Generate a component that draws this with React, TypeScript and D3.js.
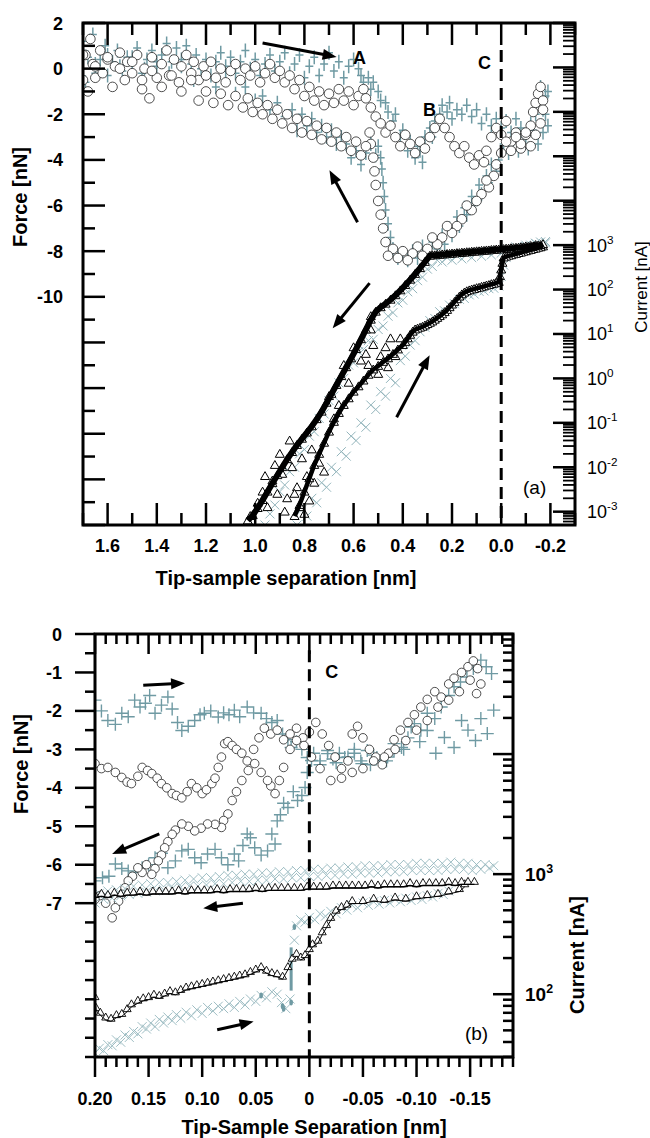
import React from 'react';
import * as d3 from 'd3';

type Pt = [number, number];

// ---------- panel (a): force [nN] vs tip-sample separation [nm]
const plusApproachA: Pt[] = [
  [1.70, 1.2], [1.69, -0.6], [1.68, 0.5], [1.66, 1.5], [1.65, -0.2], [1.63, 0.4], [1.61, 1.0], [1.60, -0.3], [1.58, 0.3], [1.56, 0.8],
  [1.54, -0.1], [1.52, 0.5], [1.50, 0.2], [1.48, 0.9], [1.46, -0.2], [1.44, 0.4], [1.42, 0.8], [1.40, 0.1], [1.38, 0.6], [1.36, 1.1],
  [1.34, 0.3], [1.32, 0.9], [1.30, 0.4], [1.28, 1.0], [1.26, 0.2], [1.24, 0.6], [1.22, 0.0], [1.20, 0.4], [1.18, -0.3], [1.16, 0.3],
  [1.14, 0.7], [1.12, 0.1], [1.10, 0.5], [1.08, -0.2], [1.06, 0.3], [1.04, 0.8], [1.02, 0.0], [1.00, 0.4], [0.98, -0.3], [0.96, 0.2],
  [0.94, 0.6], [0.92, -0.1], [0.90, 0.3], [0.88, 0.7], [0.86, -0.2], [0.84, 0.2], [0.82, 0.6], [0.80, -0.4], [0.78, 0.1], [0.76, 0.5],
  [0.74, -0.3], [0.72, 0.2], [0.70, 0.7], [0.68, -0.1], [0.66, 0.3], [0.64, -0.4], [0.62, 0.1], [0.60, 0.4], [0.58, 0.0], [0.57, -0.3],
  [0.56, -0.6], [0.54, -0.4], [0.53, -0.9], [0.52, -0.6], [0.50, -1.0], [0.49, -1.4], [0.47, -1.5], [0.46, -1.9], [0.44, -2.3], [0.43, -2.0],
  [0.41, -3.0], [0.40, -2.7], [0.38, -3.6], [0.37, -3.2], [0.35, -3.9], [0.34, -3.4], [0.33, -3.6], [0.32, -4.1], [0.31, -3.0], [0.29, -2.6],
  [0.28, -3.0], [0.27, -2.3], [0.25, -2.0], [0.24, -1.6], [0.22, -1.9], [0.21, -1.5], [0.20, -2.2], [0.18, -1.8], [0.16, -2.0], [0.14, -1.6],
  [0.12, -2.1], [0.10, -1.8], [0.08, -2.4], [0.06, -2.0], [0.04, -2.5], [0.02, -2.2], [0.00, -2.6], [-0.02, -2.3], [-0.04, -2.8], [-0.06, -2.2],
  [-0.08, -2.6], [-0.10, -3.0], [-0.12, -2.4], [-0.14, -2.0], [-0.15, -1.4], [-0.16, -0.8], [-0.17, -1.8], [-0.18, -1.2], [-0.19, -2.5],
];
const plusRetractA: Pt[] = [
  [-0.19, -1.0], [-0.18, -2.0], [-0.17, -2.8], [-0.15, -3.3], [-0.13, -2.7], [-0.11, -3.5], [-0.09, -3.0], [-0.07, -3.6], [-0.05, -3.1], [-0.03, -3.7],
  [-0.01, -3.3], [0.01, -4.0], [0.02, -4.5], [0.04, -4.2], [0.05, -5.0], [0.06, -4.7], [0.08, -5.5], [0.09, -5.1], [0.11, -6.0], [0.12, -5.6],
  [0.14, -6.4], [0.15, -6.1], [0.17, -6.9], [0.18, -6.5], [0.20, -7.3], [0.21, -7.0], [0.23, -7.7], [0.24, -7.3], [0.26, -7.9], [0.28, -7.6],
  [0.30, -8.1], [0.32, -7.8], [0.34, -8.3], [0.36, -8.0], [0.38, -8.4], [0.40, -8.1], [0.42, -8.3], [0.44, -7.9], [0.45, -7.4], [0.46, -6.8],
  [0.47, -6.2], [0.475, -5.6], [0.48, -5.0], [0.485, -4.4], [0.49, -3.9], [0.50, -3.4], [0.51, -3.8], [0.53, -3.3], [0.55, -3.7], [0.57, -4.2],
  [0.59, -3.6], [0.61, -3.9], [0.63, -3.3], [0.65, -3.0], [0.67, -3.3], [0.69, -2.7], [0.71, -3.0], [0.73, -2.5], [0.75, -2.8], [0.77, -2.2],
  [0.79, -2.5], [0.81, -2.0], [0.83, -2.7], [0.85, -1.8], [0.88, -2.1], [0.91, -1.5], [0.94, -1.8], [0.97, -1.2], [1.00, -1.4], [1.04, -0.8],
  [1.08, -1.1], [1.12, -0.5], [1.16, -0.8], [1.20, -0.2], [1.25, -0.5], [1.30, 0.1], [1.35, -0.2], [1.40, 0.3], [1.45, 0.0], [1.50, 0.5],
  [1.55, 0.1], [1.60, 0.6], [1.65, 0.2], [1.70, 0.8],
];
const circleApproachA: Pt[] = [
  [1.70, -0.5], [1.69, 0.6], [1.68, -1.0], [1.67, 1.3], [1.66, 0.2], [1.65, -0.4], [1.63, 0.8], [1.62, -0.2], [1.60, 0.4], [1.58, -0.8],
  [1.57, 0.1], [1.55, 0.7], [1.53, -0.5], [1.52, 0.3], [1.50, -0.2], [1.48, 0.6], [1.46, -0.9], [1.45, 0.0], [1.43, -1.3], [1.42, 0.5],
  [1.40, -0.4], [1.38, 0.2], [1.36, 0.8], [1.35, -0.3], [1.33, 0.4], [1.31, -0.6], [1.30, 0.1], [1.28, 0.6], [1.26, -0.2], [1.25, 0.3],
  [1.23, -0.5], [1.21, 0.1], [1.20, -0.3], [1.18, 0.3], [1.16, -0.4], [1.14, 0.0], [1.12, -0.6], [1.10, -0.1], [1.08, 0.2], [1.06, -0.5],
  [1.04, 0.0], [1.02, -0.3], [1.00, 0.1], [0.98, -0.6], [0.96, -0.2], [0.94, 0.2], [0.92, -0.4], [0.90, -0.1], [0.88, -0.6], [0.86, -0.3],
  [0.84, -0.9], [0.82, -0.5], [0.80, -1.2], [0.78, -0.8], [0.76, -1.4], [0.74, -1.0], [0.72, -1.6], [0.70, -1.1], [0.68, -1.5], [0.66, -0.9],
  [0.64, -1.4], [0.62, -1.0], [0.60, -1.6], [0.58, -1.2], [0.56, -0.9], [0.55, -1.3], [0.53, -1.7], [0.51, -2.1], [0.49, -2.4], [0.47, -2.8],
  [0.45, -2.5], [0.43, -3.0], [0.41, -3.4], [0.39, -2.9], [0.37, -3.3], [0.35, -3.7], [0.33, -3.2], [0.31, -3.5], [0.29, -3.0], [0.27, -2.6],
  [0.25, -2.2], [0.23, -2.6], [0.21, -3.0], [0.19, -3.4], [0.17, -3.7], [0.15, -3.4], [0.13, -3.9], [0.11, -4.2], [0.09, -3.8], [0.07, -4.1],
  [0.06, -3.6], [0.04, -3.0], [0.02, -2.6], [0.00, -2.9], [-0.02, -2.3], [-0.04, -3.2], [-0.06, -2.8], [-0.08, -3.5], [-0.10, -2.9], [-0.12, -2.5],
  [-0.13, -1.9], [-0.14, -1.5], [-0.15, -1.1], [-0.16, -0.8], [-0.17, -1.4],
];
const circleRetractA: Pt[] = [
  [-0.17, -1.8], [-0.16, -2.4], [-0.14, -2.9], [-0.12, -3.4], [-0.10, -2.8], [-0.08, -3.3], [-0.06, -3.0], [-0.04, -3.6], [-0.02, -3.2], [0.00, -3.7],
  [0.02, -4.2], [0.03, -4.7], [0.05, -5.2], [0.06, -4.9], [0.08, -5.5], [0.10, -5.8], [0.12, -6.2], [0.14, -6.0], [0.16, -6.6], [0.18, -6.9],
  [0.20, -7.2], [0.22, -6.9], [0.24, -7.4], [0.26, -7.7], [0.28, -7.4], [0.30, -7.9], [0.32, -8.2], [0.34, -7.8], [0.36, -8.1], [0.38, -8.4],
  [0.40, -8.0], [0.42, -8.3], [0.44, -7.9], [0.46, -8.2], [0.47, -7.6], [0.48, -7.0], [0.49, -6.4], [0.50, -5.8], [0.51, -5.1], [0.515, -4.5],
  [0.52, -3.9], [0.53, -3.3], [0.535, -2.8], [0.55, -3.4], [0.57, -3.8], [0.59, -3.2], [0.61, -3.6], [0.63, -3.0], [0.65, -3.4], [0.67, -2.8],
  [0.69, -3.2], [0.71, -2.6], [0.73, -3.1], [0.75, -2.5], [0.77, -2.9], [0.79, -2.3], [0.81, -2.8], [0.83, -2.2], [0.85, -2.6], [0.87, -2.0],
  [0.89, -2.4], [0.91, -1.8], [0.93, -2.2], [0.95, -1.6], [0.97, -2.0], [0.99, -1.5], [1.01, -1.9], [1.03, -1.3], [1.05, -1.7], [1.08, -1.2],
  [1.11, -1.6], [1.14, -1.1], [1.17, -1.5], [1.20, -1.0], [1.23, -1.4], [1.26, -0.5], [1.30, -1.0], [1.34, -0.3], [1.38, -0.8], [1.42, -0.1],
  [1.46, -0.5], [1.50, 0.3], [1.55, 0.0], [1.60, 0.5], [1.65, 0.1], [1.70, 0.6],
];

// ---------- panel (a): current, log10 of I [nA]
const triRetractA: Pt[] = [
  [-0.17, 3.02], [-0.16, 3.0], [-0.15, 2.99], [-0.14, 3.0], [-0.13, 2.97], [-0.12, 2.98], [-0.11, 2.96], [-0.10, 2.97], [-0.09, 2.95], [-0.08, 2.95],
  [-0.07, 2.94], [-0.06, 2.94], [-0.05, 2.93], [-0.04, 2.93], [-0.03, 2.92], [-0.02, 2.92], [-0.01, 2.91], [0.00, 2.91], [0.01, 2.90], [0.02, 2.90],
  [0.03, 2.89], [0.04, 2.89], [0.05, 2.88], [0.06, 2.88], [0.07, 2.87], [0.08, 2.87], [0.09, 2.86], [0.10, 2.86], [0.11, 2.85], [0.12, 2.85],
  [0.13, 2.84], [0.14, 2.84], [0.15, 2.83], [0.16, 2.83], [0.17, 2.82], [0.18, 2.82], [0.19, 2.81], [0.20, 2.81], [0.21, 2.80], [0.22, 2.80],
  [0.23, 2.79], [0.24, 2.79], [0.25, 2.78], [0.26, 2.78], [0.27, 2.77], [0.28, 2.77], [0.29, 2.76], [0.31, 2.62], [0.33, 2.48], [0.35, 2.35],
  [0.37, 2.22], [0.39, 2.10], [0.41, 1.98], [0.43, 1.87], [0.45, 1.77], [0.47, 1.68], [0.49, 1.60], [0.51, 1.50], [0.53, 1.32], [0.55, 1.10],
  [0.57, 0.88], [0.59, 0.66], [0.61, 0.45], [0.63, 0.25], [0.65, 0.05], [0.67, -0.15], [0.69, -0.35], [0.71, -0.55], [0.73, -0.75], [0.75, -0.92],
  [0.77, -1.08], [0.79, -1.22], [0.81, -1.36], [0.83, -1.50], [0.85, -1.66], [0.87, -1.82], [0.89, -2.0], [0.91, -2.18], [0.93, -2.36], [0.95, -2.55],
  [0.97, -2.74], [0.99, -2.92], [1.01, -3.08], [1.03, -3.2],
];
const triApproachA: Pt[] = [
  [-0.17, 2.97], [-0.16, 2.95], [-0.15, 2.94], [-0.14, 2.92], [-0.13, 2.91], [-0.12, 2.89], [-0.11, 2.88], [-0.10, 2.86], [-0.09, 2.85], [-0.08, 2.83],
  [-0.07, 2.82], [-0.06, 2.80], [-0.05, 2.79], [-0.04, 2.77], [-0.03, 2.76], [-0.02, 2.74], [-0.01, 2.72], [-0.005, 2.60], [0.0, 2.45], [0.005, 2.30],
  [0.01, 2.17], [0.02, 2.15], [0.03, 2.13], [0.04, 2.12], [0.05, 2.10], [0.06, 2.09], [0.07, 2.07], [0.08, 2.06], [0.09, 2.04], [0.10, 2.03],
  [0.11, 2.01], [0.12, 2.00], [0.13, 1.98], [0.14, 1.96], [0.15, 1.93], [0.16, 1.89], [0.17, 1.84], [0.18, 1.78], [0.19, 1.72], [0.20, 1.66],
  [0.21, 1.60], [0.22, 1.54], [0.23, 1.49], [0.24, 1.44], [0.25, 1.40], [0.26, 1.36], [0.27, 1.32], [0.28, 1.28], [0.29, 1.25], [0.30, 1.22],
  [0.31, 1.19], [0.32, 1.16], [0.33, 1.14], [0.34, 1.12], [0.35, 1.10], [0.36, 1.05], [0.37, 0.98], [0.38, 0.90], [0.39, 0.82], [0.40, 0.75],
  [0.42, 0.65], [0.44, 0.55], [0.46, 0.45], [0.48, 0.37], [0.50, 0.28], [0.52, 0.20], [0.54, 0.08], [0.56, -0.05], [0.58, -0.18], [0.60, -0.30],
  [0.62, -0.45], [0.64, -0.60], [0.66, -0.78], [0.68, -0.98], [0.70, -1.20], [0.72, -1.45], [0.74, -1.70], [0.76, -1.95], [0.78, -2.25], [0.80, -2.55],
  [0.82, -2.85], [0.84, -3.10],
];
const triScatterA: Pt[] = [
  [1.02, -3.1], [0.99, -2.8], [0.97, -2.55], [0.95, -2.9], [0.93, -2.3], [0.91, -2.6], [0.89, -2.15], [0.87, -2.7], [0.85, -2.0], [0.83, -2.45],
  [0.81, -1.8], [0.79, -2.2], [0.77, -1.6], [0.80, -3.05], [0.82, -2.9], [0.76, -2.35], [0.74, -1.9], [0.72, -2.1], [0.78, -2.75], [0.84, -2.6],
  [0.88, -3.0], [0.92, -1.95], [0.96, -2.2], [0.86, -1.4], [0.90, -1.7], [0.45, 0.9], [0.47, 0.7], [0.43, 0.5], [0.41, 0.9], [0.49, 0.5],
  [0.52, 0.75], [0.55, 0.55], [0.57, 0.4], [0.50, 0.1], [0.46, 0.25], [0.53, 1.1], [0.53, 1.4], [0.54, 0.3], [0.60, 0.7], [0.62, -0.1],
  [0.64, 0.3], [0.66, -0.6], [0.68, -0.9], [0.70, -0.4],
];
const crossRetractA: Pt[] = [
  [-0.18, 3.08], [-0.16, 2.98], [-0.14, 3.04], [-0.12, 2.94], [-0.10, 3.0], [-0.08, 2.9], [-0.06, 2.96], [-0.04, 2.86], [-0.02, 2.92], [0.00, 2.82],
  [0.02, 2.88], [0.04, 2.78], [0.06, 2.85], [0.08, 2.75], [0.10, 2.82], [0.12, 2.72], [0.14, 2.79], [0.16, 2.69], [0.18, 2.76], [0.20, 2.66],
  [0.22, 2.72], [0.24, 2.62], [0.26, 2.66], [0.28, 2.52], [0.30, 2.46], [0.32, 2.28], [0.34, 2.20], [0.36, 2.02], [0.38, 1.95], [0.40, 1.76],
  [0.42, 1.70], [0.44, 1.48], [0.46, 1.40], [0.48, 1.18], [0.50, 1.10], [0.52, 0.88], [0.54, 0.85], [0.56, 0.65], [0.58, 0.6], [0.60, 0.35],
  [0.62, 0.3], [0.64, 0.0], [0.66, -0.1], [0.68, -0.4], [0.70, -0.5], [0.72, -0.8], [0.74, -0.9], [0.76, -1.2], [0.78, -1.3], [0.80, -1.6],
  [0.82, -1.7], [0.84, -2.0], [0.86, -2.1], [0.88, -2.4], [0.90, -2.55], [0.92, -2.85], [0.94, -3.05], [0.96, -3.3],
];
const crossApproachA: Pt[] = [
  [0.83, -3.3], [0.81, -2.95], [0.79, -3.1], [0.77, -2.7], [0.75, -2.8], [0.73, -2.35], [0.71, -2.45], [0.69, -2.0], [0.67, -2.1], [0.65, -1.65],
  [0.63, -1.75], [0.61, -1.3], [0.59, -1.4], [0.57, -1.0], [0.55, -1.1], [0.53, -0.6], [0.51, -0.7], [0.49, -0.3], [0.47, -0.4], [0.45, 0.0],
  [0.43, -0.1], [0.41, 0.4], [0.39, 0.5], [0.37, 0.75], [0.35, 0.85], [0.33, 1.05], [0.31, 1.15], [0.29, 1.3], [0.27, 1.35], [0.25, 1.5],
  [0.23, 1.52], [0.21, 1.65], [0.19, 1.68], [0.17, 1.78], [0.15, 1.8], [0.13, 1.88], [0.11, 1.9], [0.09, 1.96], [0.07, 1.97], [0.05, 2.02],
  [0.03, 2.03], [0.01, 2.08], [0.00, 2.3], [-0.01, 2.55], [-0.02, 2.72], [-0.04, 2.8], [-0.06, 2.88], [-0.08, 2.92], [-0.10, 2.97], [-0.12, 3.0],
  [-0.14, 3.04], [-0.16, 3.07], [-0.18, 3.05],
];

// ---------- panel (b): force [nN] vs tip-sample separation [nm]
const plusApproachB: Pt[] = [
  [0.200, -1.72], [0.194, -2.0], [0.188, -2.25], [0.181, -2.35], [0.175, -2.06], [0.169, -2.15], [0.163, -1.72], [0.158, -1.9], [0.153, -1.80], [0.149, -1.6],
  [0.144, -2.06], [0.138, -1.85], [0.132, -1.64], [0.128, -1.95], [0.123, -2.3], [0.119, -2.51], [0.113, -2.4], [0.107, -2.25], [0.102, -2.1], [0.098, -2.06],
  [0.092, -2.0], [0.085, -2.16], [0.080, -2.05], [0.075, -2.1], [0.070, -1.98], [0.065, -2.15], [0.058, -1.90], [0.052, -2.05], [0.045, -2.06], [0.040, -2.2],
  [0.035, -2.3], [0.030, -2.25], [0.025, -2.6], [0.020, -2.75], [0.017, -2.95], [0.012, -2.8], [0.007, -3.0], [0.002, -3.21], [-0.004, -3.1], [-0.010, -3.3],
  [-0.017, -3.03], [-0.022, -3.25], [-0.028, -3.1], [-0.036, -3.2], [-0.042, -3.0], [-0.048, -3.3], [-0.054, -3.03], [-0.060, -3.15], [-0.066, -3.3], [-0.073, -3.2],
  [-0.079, -3.05], [-0.086, -2.95], [-0.092, -2.7], [-0.098, -2.33], [-0.104, -2.5], [-0.110, -2.06], [-0.117, -2.2], [-0.123, -1.9], [-0.130, -1.6], [-0.135, -1.37],
  [-0.141, -1.25], [-0.147, -1.12], [-0.153, -0.9], [-0.160, -0.68], [-0.165, -0.85], [-0.170, -1.03],
];
const plusRetractB: Pt[] = [
  [-0.172, -1.98], [-0.166, -2.59], [-0.160, -2.2], [-0.155, -2.77], [-0.148, -2.5], [-0.142, -2.25], [-0.135, -2.95], [-0.126, -2.69], [-0.118, -3.1], [-0.110, -2.51],
  [-0.103, -2.8], [-0.095, -2.42], [-0.088, -3.0], [-0.079, -2.85], [-0.072, -3.3], [-0.063, -3.21], [-0.057, -3.4], [-0.049, -3.37], [-0.042, -3.1], [-0.033, -3.21],
  [-0.025, -3.35], [-0.017, -3.11], [-0.010, -3.4], [-0.002, -3.29], [0.002, -3.6], [0.004, -3.99], [0.007, -4.2], [0.011, -4.33], [0.015, -4.1], [0.020, -4.51],
  [0.024, -4.4], [0.027, -4.7], [0.030, -4.86], [0.032, -5.46], [0.035, -5.2], [0.039, -5.64], [0.045, -5.75], [0.051, -5.56], [0.055, -5.3], [0.058, -5.2],
  [0.062, -5.5], [0.066, -5.9], [0.070, -5.72], [0.076, -6.0], [0.082, -5.82], [0.088, -5.6], [0.095, -5.72], [0.101, -5.95], [0.107, -5.82], [0.113, -5.6],
  [0.119, -5.64], [0.125, -5.9], [0.132, -6.08], [0.138, -5.7], [0.144, -5.82], [0.150, -6.0], [0.156, -6.08], [0.162, -6.2], [0.169, -6.16], [0.175, -6.1],
  [0.181, -5.98], [0.187, -6.3], [0.193, -6.34], [0.200, -6.42],
];
const circleApproachB: Pt[] = [
  [0.200, -3.37], [0.194, -3.5], [0.188, -3.47], [0.181, -3.6], [0.175, -3.73], [0.170, -3.85], [0.166, -3.89], [0.160, -3.7], [0.156, -3.47], [0.151, -3.55],
  [0.147, -3.63], [0.142, -3.75], [0.138, -3.89], [0.133, -4.0], [0.128, -4.15], [0.124, -4.2], [0.119, -4.26], [0.114, -4.1], [0.110, -3.89], [0.105, -4.0],
  [0.100, -4.15], [0.096, -4.05], [0.091, -3.89], [0.088, -3.75], [0.085, -3.47], [0.082, -3.2], [0.079, -2.85], [0.076, -2.8], [0.072, -2.9], [0.068, -3.0],
  [0.063, -3.1], [0.058, -3.3], [0.052, -3.0], [0.047, -2.7], [0.042, -2.45], [0.036, -2.6], [0.030, -2.5], [0.024, -2.75], [0.018, -2.6], [0.012, -2.45],
  [0.006, -2.7], [0.000, -2.55], [-0.006, -2.3], [-0.012, -2.6], [-0.018, -2.9], [-0.024, -3.2], [-0.030, -3.5], [-0.036, -3.3], [-0.040, -2.6], [-0.045, -2.4],
  [-0.050, -2.7], [-0.056, -3.0], [-0.062, -3.2], [-0.068, -3.4], [-0.074, -3.1], [-0.079, -2.75], [-0.085, -2.5], [-0.092, -2.3], [-0.098, -2.1], [-0.104, -1.9],
  [-0.110, -1.7], [-0.117, -1.5], [-0.123, -1.64], [-0.130, -1.3], [-0.135, -1.15], [-0.142, -1.0], [-0.148, -0.85], [-0.153, -0.7], [-0.157, -0.9], [-0.160, -1.3],
  [-0.156, -1.55],
];
const circleRetractB: Pt[] = [
  [-0.150, -1.2], [-0.140, -1.5], [-0.130, -1.72], [-0.120, -1.9], [-0.110, -2.25], [-0.100, -2.5], [-0.090, -2.77], [-0.080, -3.0], [-0.070, -3.2], [-0.060, -3.3],
  [-0.050, -3.5], [-0.040, -3.6], [-0.030, -3.75], [-0.020, -3.81], [-0.010, -3.5], [-0.002, -3.2], [0.005, -2.9], [0.012, -2.77], [0.018, -3.0], [0.024, -3.47],
  [0.028, -3.81], [0.032, -4.15], [0.036, -3.95], [0.039, -3.81], [0.045, -3.6], [0.051, -3.37], [0.057, -3.55], [0.063, -3.81], [0.068, -4.1], [0.072, -4.33],
  [0.076, -4.68], [0.080, -4.85], [0.082, -5.03], [0.088, -4.95], [0.095, -4.94], [0.101, -5.05], [0.107, -5.12], [0.113, -5.0], [0.119, -4.94], [0.125, -5.1],
  [0.128, -5.21], [0.132, -5.4], [0.135, -5.56], [0.138, -5.75], [0.141, -5.9], [0.144, -6.1], [0.147, -6.25], [0.152, -6.0], [0.156, -6.2], [0.160, -6.08],
  [0.165, -6.3], [0.169, -6.42], [0.172, -6.6], [0.175, -6.77], [0.178, -6.95], [0.181, -7.12], [0.184, -7.38], [0.190, -7.0], [0.195, -6.8], [0.200, -6.9],
];

// ---------- panel (b): current, log10 of I [nA]
const triUpperB: Pt[] = [
  [0.200, 2.83], [0.194, 2.84], [0.188, 2.83], [0.182, 2.85], [0.176, 2.84], [0.170, 2.85], [0.164, 2.85], [0.158, 2.86], [0.152, 2.85], [0.146, 2.86],
  [0.140, 2.86], [0.134, 2.86], [0.128, 2.86], [0.122, 2.87], [0.116, 2.86], [0.110, 2.87], [0.104, 2.87], [0.098, 2.87], [0.092, 2.87], [0.086, 2.88],
  [0.080, 2.87], [0.074, 2.88], [0.068, 2.88], [0.062, 2.88], [0.056, 2.88], [0.050, 2.89], [0.044, 2.88], [0.038, 2.89], [0.032, 2.89], [0.026, 2.89],
  [0.020, 2.89], [0.014, 2.89], [0.008, 2.89], [0.002, 2.90], [-0.004, 2.90], [-0.010, 2.90], [-0.016, 2.90], [-0.022, 2.91], [-0.028, 2.91], [-0.034, 2.91],
  [-0.040, 2.91], [-0.046, 2.91], [-0.052, 2.91], [-0.058, 2.92], [-0.064, 2.91], [-0.070, 2.92], [-0.076, 2.92], [-0.082, 2.92], [-0.088, 2.92], [-0.094, 2.93],
  [-0.100, 2.92], [-0.106, 2.93], [-0.112, 2.93], [-0.118, 2.93], [-0.124, 2.93], [-0.130, 2.94], [-0.136, 2.93], [-0.142, 2.94], [-0.148, 2.94], [-0.154, 2.94],
];
const triLowerB: Pt[] = [
  [0.200, 1.98], [0.199, 1.89], [0.195, 1.85], [0.190, 1.81], [0.185, 1.80], [0.180, 1.83], [0.175, 1.84], [0.170, 1.88], [0.166, 1.92], [0.160, 1.95],
  [0.155, 1.97], [0.150, 1.98], [0.145, 2.00], [0.140, 1.99], [0.135, 2.01], [0.130, 2.03], [0.125, 2.02], [0.120, 2.04], [0.115, 2.06], [0.110, 2.07],
  [0.105, 2.08], [0.100, 2.09], [0.095, 2.10], [0.090, 2.11], [0.085, 2.12], [0.080, 2.13], [0.075, 2.14], [0.070, 2.15], [0.065, 2.16], [0.060, 2.17],
  [0.055, 2.19], [0.050, 2.21], [0.045, 2.23], [0.040, 2.20], [0.035, 2.18], [0.030, 2.17], [0.025, 2.15], [0.020, 2.23], [0.016, 2.30], [0.012, 2.34],
  [0.008, 2.31], [0.004, 2.33], [0.000, 2.38], [-0.003, 2.42], [-0.008, 2.45], [-0.012, 2.52], [-0.016, 2.58], [-0.020, 2.64], [-0.025, 2.70], [-0.030, 2.73],
  [-0.035, 2.75], [-0.040, 2.78], [-0.050, 2.78], [-0.060, 2.80], [-0.070, 2.79], [-0.080, 2.81], [-0.090, 2.80], [-0.100, 2.82], [-0.110, 2.83], [-0.120, 2.84],
  [-0.130, 2.86], [-0.140, 2.88], [-0.145, 2.92],
];
const crossUpperB: Pt[] = [
  [0.200, 2.76], [0.196, 2.84], [0.192, 2.79], [0.188, 2.86], [0.184, 2.80], [0.180, 2.87], [0.176, 2.82], [0.172, 2.88], [0.168, 2.83], [0.164, 2.90],
  [0.160, 2.84], [0.156, 2.91], [0.152, 2.85], [0.148, 2.92], [0.144, 2.86], [0.140, 2.93], [0.136, 2.87], [0.132, 2.93], [0.128, 2.88], [0.124, 2.94],
  [0.120, 2.89], [0.116, 2.95], [0.112, 2.90], [0.108, 2.96], [0.104, 2.90], [0.100, 2.97], [0.096, 2.91], [0.092, 2.97], [0.088, 2.92], [0.084, 2.98],
  [0.080, 2.92], [0.076, 2.99], [0.072, 2.93], [0.068, 2.99], [0.064, 2.94], [0.060, 3.00], [0.056, 2.94], [0.052, 3.00], [0.048, 2.95], [0.044, 3.01],
  [0.040, 2.95], [0.036, 3.01], [0.032, 2.96], [0.028, 3.02], [0.024, 2.96], [0.020, 3.02], [0.016, 2.97], [0.012, 3.03], [0.008, 2.97], [0.004, 3.03],
  [0.000, 2.98], [-0.004, 3.04], [-0.008, 2.98], [-0.012, 3.04], [-0.016, 2.99], [-0.020, 3.05], [-0.024, 2.99], [-0.028, 3.05], [-0.032, 3.00], [-0.036, 3.06],
  [-0.040, 3.00], [-0.044, 3.06], [-0.048, 3.01], [-0.052, 3.07], [-0.056, 3.01], [-0.060, 3.07], [-0.064, 3.01], [-0.068, 3.07], [-0.072, 3.02], [-0.076, 3.08],
  [-0.080, 3.02], [-0.084, 3.08], [-0.088, 3.02], [-0.092, 3.08], [-0.096, 3.03], [-0.100, 3.09], [-0.104, 3.03], [-0.108, 3.09], [-0.112, 3.03], [-0.116, 3.09],
  [-0.120, 3.03], [-0.124, 3.09], [-0.128, 3.04], [-0.132, 3.10], [-0.136, 3.04], [-0.140, 3.09], [-0.144, 3.04], [-0.148, 3.09], [-0.152, 3.03], [-0.156, 3.08],
  [-0.160, 3.04], [-0.164, 3.08], [-0.168, 3.05], [-0.172, 3.07],
];
const crossLowerB: Pt[] = [
  [0.200, 1.51], [0.196, 1.55], [0.192, 1.53], [0.188, 1.58], [0.184, 1.57], [0.180, 1.62], [0.176, 1.60], [0.172, 1.66], [0.168, 1.64], [0.164, 1.69],
  [0.160, 1.67], [0.156, 1.73], [0.152, 1.71], [0.148, 1.76], [0.144, 1.73], [0.140, 1.79], [0.136, 1.76], [0.132, 1.81], [0.128, 1.78], [0.124, 1.83],
  [0.120, 1.80], [0.115, 1.85], [0.110, 1.82], [0.105, 1.87], [0.100, 1.84], [0.095, 1.89], [0.090, 1.86], [0.085, 1.90], [0.080, 1.88], [0.075, 1.92],
  [0.070, 1.89], [0.065, 1.94], [0.060, 1.91], [0.055, 1.96], [0.050, 1.94], [0.045, 1.99], [0.040, 1.97], [0.035, 2.02], [0.030, 2.0], [0.026, 1.93],
  [0.022, 1.88], [0.018, 1.96], [0.014, 2.45], [0.012, 2.57], [0.008, 2.62], [0.004, 2.60], [0.000, 2.64], [-0.005, 2.62], [-0.010, 2.67], [-0.015, 2.65],
  [-0.020, 2.69], [-0.025, 2.67], [-0.030, 2.72], [-0.035, 2.70], [-0.040, 2.74], [-0.045, 2.72], [-0.050, 2.76], [-0.055, 2.74], [-0.060, 2.77], [-0.065, 2.75],
  [-0.070, 2.78], [-0.075, 2.76], [-0.080, 2.79], [-0.085, 2.77], [-0.090, 2.80], [-0.095, 2.78], [-0.100, 2.81], [-0.105, 2.79], [-0.110, 2.82], [-0.115, 2.81],
  [-0.120, 2.84], [-0.125, 2.83], [-0.130, 2.86],
];
const grayJumpB: Pt[] = [[0.017, 2.03], [0.017, 2.39]];
const grayDotsB: Pt[] = [[0.014, 2.56], [0.017, 1.93], [0.025, 1.90], [0.024, 1.88], [0.045, 1.99]];

// ---------- ticks and labels
const sepLabelsA = [1.6, 1.4, 1.2, 1.0, 0.8, 0.6, 0.4, 0.2, 0.0, -0.2];
const forceLabelsA = [2, 0, -2, -4, -6, -8, -10];
const currentExpA = [-3, -2, -1, 0, 1, 2, 3];
const sepTicksB = [0.2, 0.15, 0.1, 0.05, 0, -0.05, -0.1, -0.15];
const sepLabelsB = ['0.20', '0.15', '0.10', '0.05', '0', '-0.05', '-0.10', '-0.15'];
const forceLabelsB = [0, -1, -2, -3, -4, -5, -6, -7];
const currentExpB = [2, 3];

// annotation arrows in data units [x0, f0, x1, f1]
const arrowsA = [
  [0.97, 1.12, 0.669, 0.51],
  [0.584, -6.73, 0.698, -4.45],
  [0.535, -9.4, 0.685, -11.38],
  [0.425, -15.28, 0.291, -12.56],
];
const arrowsB = [
  [0.155, -1.33, 0.116, -1.28],
  [0.14, -5.2, 0.184, -5.72],
  [0.062, -7.0, 0.099, -7.13],
  [0.086, -10.29, 0.052, -10.08],
];

const FONT = "'Liberation Sans', Arial, Helvetica, sans-serif";
const GRAY = '#6f9aa3';
const GRAY_X = '#93b5bc';

const A = { left: 83, right: 575, top: 23, bottom: 525 };
const B = { left: 95, right: 513, top: 634, bottom: 1057 };

const xA = d3.scaleLinear().domain([1.7, -0.3]).range([A.left, A.right]);
const fA = d3.scaleLinear().domain([-20, 2]).range([A.bottom, A.top]);
const iA = d3.scaleLog().domain([10 ** -3.3, 1e8]).range([A.bottom, A.top]);

const xB = d3.scaleLinear().domain([0.2, -0.19]).range([B.left, B.right]);
const fB = d3.scaleLinear().domain([-11, 0]).range([B.bottom, B.top]);
const iB = d3.scaleLog().domain([30, 1e5]).range([B.bottom, B.top]);

const logTicks = (scale: any) => {
  const [lo, hi] = scale.domain();
  const out: { v: number; major: boolean }[] = [];
  for (let e = Math.floor(Math.log10(lo)); e <= Math.ceil(Math.log10(hi)); e++) {
    for (let m = 1; m <= 9; m++) {
      const v = m * 10 ** e;
      if (v >= lo && v <= hi) out.push({ v, major: m === 1 });
    }
  }
  return out;
};

const plusPath = (pts: Pt[], sx: any, sy: any, sw: number, sh: number) =>
  pts.map(([a, b]) => {
    const x = sx(a), y = sy(b);
    return `M${x - sw},${y}H${x + sw}M${x},${y - sh}V${y + sh}`;
  }).join('');

const crossPath = (pts: Pt[], sx: any, sy: any, s: number) =>
  pts.map(([a, b]) => {
    const x = sx(a), y = sy(b);
    return `M${x - s},${y - s}L${x + s},${y + s}M${x - s},${y + s}L${x + s},${y - s}`;
  }).join('');

const triD = (x: number, y: number, s: number) =>
  `M${x},${y - s}L${x + s},${y + s * 0.75}L${x - s},${y + s * 0.75}Z`;

function Arrow({ x1, y1, x2, y2 }: { x1: number; y1: number; x2: number; y2: number }) {
  const a = Math.atan2(y2 - y1, x2 - x1);
  const L = 14, W = 5.5;
  const bx = x2 - L * Math.cos(a), by = y2 - L * Math.sin(a);
  const px = -Math.sin(a) * W, py = Math.cos(a) * W;
  return (
    <g>
      <line x1={x1} y1={y1} x2={bx + Math.cos(a)} y2={by + Math.sin(a)} stroke="#000" strokeWidth={3} />
      <path d={`M${x2},${y2}L${bx + px},${by + py}L${bx - px},${by - py}Z`} fill="#000" />
    </g>
  );
}

function Sup({ x, y, base, exp, size, weight }: any) {
  return (
    <text x={x} y={y} fontSize={size} fontWeight={weight}>
      {base}
      <tspan dy={-size * 0.45} fontSize={size * 0.65}>{exp}</tspan>
    </text>
  );
}

function PanelA() {
  const lineI = d3.line<Pt>().x((d) => xA(d[0])).y((d) => iA(10 ** d[1]));
  const sepTicks = d3.range(-3, 18).map((i) => ({ v: i / 10, major: i % 2 === 0 }));
  const forceTicks = d3.range(-20, 3).map((v) => ({ v, major: v % 2 === 0 }));
  const yI = (v: number) => iA(10 ** v);
  return (
    <g>
      <defs>
        <clipPath id="clipA">
          <rect x={A.left} y={A.top} width={A.right - A.left} height={A.bottom - A.top} />
        </clipPath>
      </defs>
      <g clipPath="url(#clipA)">
        <path d={plusPath(plusApproachA, xA, fA, 4, 7)} stroke={GRAY} strokeWidth={1.5} fill="none" />
        <path d={plusPath(plusRetractA, xA, fA, 4, 7)} stroke={GRAY} strokeWidth={1.5} fill="none" />
        {circleApproachA.concat(circleRetractA).map(([x, f], i) => (
          <circle key={'ca' + i} cx={xA(x)} cy={fA(f)} r={4.8} fill="#fff" stroke="#222" strokeWidth={0.8} />
        ))}
        <path d={crossPath(crossRetractA, xA, yI, 4.5)} stroke={GRAY_X} strokeWidth={1} fill="none" />
        <path d={crossPath(crossApproachA, xA, yI, 4.5)} stroke={GRAY_X} strokeWidth={1} fill="none" />
        {triScatterA.map(([x, e], i) => (
          <path key={'ts' + i} d={triD(xA(x), yI(e), 4.5)} fill="#fff" stroke="#000" strokeWidth={1} />
        ))}
        {triApproachA.concat(triRetractA).map(([x, e], i) => (
          <path key={'tr' + i} d={triD(xA(x), yI(e), 4.5)} fill="#fff" stroke="#000" strokeWidth={1} />
        ))}
        <path d={lineI(triRetractA) || ''} stroke="#000" strokeWidth={6} strokeLinejoin="round" fill="none" />
        <path d={lineI(triApproachA) || ''} stroke="#000" strokeWidth={4.5} strokeLinejoin="round" fill="none" />
      </g>
      <line x1={xA(0)} x2={xA(0)} y1={fA(0.82)} y2={A.bottom} stroke="#000" strokeWidth={3} strokeDasharray="12 7" />
      {arrowsA.map((a, i) => (
        <Arrow key={i} x1={xA(a[0])} y1={fA(a[1])} x2={xA(a[2])} y2={fA(a[3])} />
      ))}
      <g stroke="#000" strokeWidth={2.5}>
        {forceTicks.map((t) => (
          <line key={'fl' + t.v} x1={A.left} x2={A.left + (t.major ? 22 : 12)} y1={fA(t.v)} y2={fA(t.v)} />
        ))}
        {sepTicks.map((t) => (
          <g key={'s' + t.v}>
            <line x1={xA(t.v)} x2={xA(t.v)} y1={A.bottom} y2={A.bottom - (t.major ? 22 : 12)} />
            <line x1={xA(t.v)} x2={xA(t.v)} y1={A.top} y2={A.top + (t.major ? 22 : 12)} />
          </g>
        ))}
        {logTicks(iA).map((t, i) => (
          <line key={'il' + i} x1={A.right} x2={A.right - (t.major ? 22 : 12)} y1={iA(t.v)} y2={iA(t.v)} strokeWidth={t.major ? 2.5 : 1.8} />
        ))}
      </g>
      <rect x={A.left} y={A.top} width={A.right - A.left} height={A.bottom - A.top} fill="none" stroke="#000" strokeWidth={3} />
      <g fontFamily={FONT} fill="#000">
        {forceLabelsA.map((v) => (
          <text key={'fla' + v} x={63} y={fA(v) + 6.5} fontSize={18} fontWeight="bold" textAnchor="end">{String(v)}</text>
        ))}
        {sepLabelsA.map((v) => (
          <text key={'sla' + v} x={xA(v)} y={552} fontSize={18} fontWeight="bold" textAnchor="middle">{v.toFixed(1)}</text>
        ))}
        {currentExpA.map((e) => (
          <Sup key={'ce' + e} x={587} y={iA(10 ** e) + 6.5} base="10" exp={String(e)} size={18} weight="normal" />
        ))}
        <text transform="translate(27,197) rotate(-90)" fontSize={20} fontWeight="bold" textAnchor="middle">Force [nN]</text>
        <text transform="translate(647,287) rotate(-90)" fontSize={17} textAnchor="middle">Current [nA]</text>
        <text x={286} y={585} fontSize={20} fontWeight="bold" textAnchor="middle">Tip-sample separation [nm]</text>
        <text x={xA(0.576)} y={fA(0.2)} fontSize={18} fontWeight="bold" textAnchor="middle">A</text>
        <text x={xA(0.291)} y={fA(-2.08)} fontSize={18} fontWeight="bold" textAnchor="middle">B</text>
        <text x={xA(0.068)} y={fA(0.0)} fontSize={18} fontWeight="bold" textAnchor="middle">C</text>
        <text x={xA(-0.136)} y={fA(-18.66)} fontSize={19} textAnchor="middle">(a)</text>
      </g>
    </g>
  );
}

function PanelB() {
  const yI = (v: number) => iB(10 ** v);
  const baseLine = d3.line<Pt>().x((d) => xB(d[0])).y((d) => yI(d[1]) + 3);
  const sepTicks = d3.range(-19, 21).map((i) => ({ v: i / 100, major: i % 5 === 0 }));
  const forceTicks = d3.range(-22, 1).map((i) => ({ v: i / 2, major: i % 2 === 0 && i >= -14 }));
  return (
    <g>
      <defs>
        <clipPath id="clipB">
          <rect x={B.left} y={B.top} width={B.right - B.left} height={B.bottom - B.top} />
        </clipPath>
      </defs>
      <g clipPath="url(#clipB)">
        <path d={plusPath(plusApproachB, xB, fB, 6.5, 6.5)} stroke={GRAY} strokeWidth={1.4} fill="none" />
        <path d={plusPath(plusRetractB, xB, fB, 6.5, 6.5)} stroke={GRAY} strokeWidth={1.4} fill="none" />
        {circleApproachB.concat(circleRetractB).map(([x, f], i) => (
          <circle key={'cb' + i} cx={xB(x)} cy={fB(f)} r={4.3} fill="#fff" stroke="#222" strokeWidth={0.8} />
        ))}
        <path d={crossPath(crossUpperB, xB, yI, 4.5)} stroke={GRAY_X} strokeWidth={0.9} fill="none" />
        <path d={crossPath(crossLowerB, xB, yI, 4.5)} stroke={GRAY_X} strokeWidth={0.9} fill="none" />
        <path d={d3.line<Pt>().x((d) => xB(d[0])).y((d) => yI(d[1]))(grayJumpB) || ''} stroke={GRAY} strokeWidth={3} fill="none" />
        {grayDotsB.map(([x, e], i) => (
          <ellipse key={'gd' + i} cx={xB(x)} cy={yI(e)} rx={1.8} ry={3} fill={GRAY} />
        ))}
        {triLowerB.concat(triUpperB).map(([x, e], i) => (
          <path key={'tb' + i} d={triD(xB(x), yI(e), 4)} fill="#fff" stroke="#000" strokeWidth={0.9} />
        ))}
        <path d={baseLine(triUpperB) || ''} stroke="#000" strokeWidth={1.4} fill="none" />
        <path d={baseLine(triLowerB) || ''} stroke="#000" strokeWidth={1} fill="none" />
      </g>
      <line x1={xB(0)} x2={xB(0)} y1={fB(-0.42)} y2={B.bottom} stroke="#000" strokeWidth={3} strokeDasharray="12 7" />
      {arrowsB.map((a, i) => (
        <Arrow key={i} x1={xB(a[0])} y1={fB(a[1])} x2={xB(a[2])} y2={fB(a[3])} />
      ))}
      <g stroke="#000" strokeWidth={2.5}>
        {forceTicks.map((t) => (
          <line key={'fb' + t.v} x1={B.left - (t.major ? 20 : 10)} x2={B.left} y1={fB(t.v)} y2={fB(t.v)} />
        ))}
        {sepTicks.map((t) => (
          <g key={'sb' + t.v}>
            <line x1={xB(t.v)} x2={xB(t.v)} y1={B.bottom} y2={B.bottom + (t.major ? 20 : 10)} />
            <line x1={xB(t.v)} x2={xB(t.v)} y1={B.top} y2={B.top + (t.major ? 20 : 10)} />
          </g>
        ))}
        {logTicks(iB).map((t, i) => (
          <line key={'ib' + i} x1={B.right} x2={B.right - (t.major ? 20 : 10)} y1={iB(t.v)} y2={iB(t.v)} />
        ))}
      </g>
      <rect x={B.left} y={B.top} width={B.right - B.left} height={B.bottom - B.top} fill="none" stroke="#000" strokeWidth={3} />
      <g fontFamily={FONT} fill="#000">
        {forceLabelsB.map((v) => (
          <text key={'flb' + v} x={62} y={fB(v) + 6.5} fontSize={18} fontWeight="bold" textAnchor="end">{String(v)}</text>
        ))}
        {sepTicksB.map((v, i) => (
          <text key={'slb' + i} x={xB(v)} y={1105} fontSize={18} fontWeight="bold" textAnchor="middle">{sepLabelsB[i]}</text>
        ))}
        {currentExpB.map((e) => (
          <Sup key={'cb' + e} x={525} y={iB(10 ** e) + 7} base="10" exp={String(e)} size={19} weight="bold" />
        ))}
        <text transform="translate(28,764) rotate(-90)" fontSize={20} fontWeight="bold" textAnchor="middle">Force [nN]</text>
        <text transform="translate(584,955) rotate(-90)" fontSize={20} fontWeight="bold" textAnchor="middle">Current [nA]</text>
        <text x={314} y={1134} fontSize={20} fontWeight="bold" textAnchor="middle">Tip-Sample Separation [nm]</text>
        <text x={xB(-0.021)} y={fB(-1.15)} fontSize={18} fontWeight="bold" textAnchor="middle">C</text>
        <text x={xB(-0.156)} y={fB(-10.57)} fontSize={19} textAnchor="middle">(b)</text>
      </g>
    </g>
  );
}

export default function App() {
  return (
    <svg
      width={650}
      height={1138}
      viewBox="0 0 650 1138"
      style={{ position: 'absolute', left: 0, top: 0, background: '#fff' }}
    >
      <rect width={650} height={1138} fill="#fff" />
      <PanelA />
      <PanelB />
    </svg>
  );
}
